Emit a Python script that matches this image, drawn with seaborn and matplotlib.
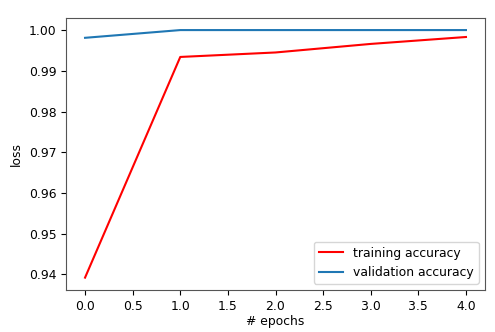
import matplotlib
matplotlib.use("Agg")
import matplotlib.pyplot as plt
import seaborn as sns
import pandas as pd

epochs = [0, 1, 2, 3, 4]
train_acc = [0.9392, 0.9934, 0.9945, 0.9966, 0.9983]
val_acc = [0.9981, 1.0, 1.0, 1.0, 1.0]

plt.rcParams['font.family'] = ['DejaVu Sans']
fs = 8.9

fig = plt.figure(figsize=(4.95, 3.32), dpi=100)
ax = fig.add_axes([66/495, 1 - 290/332, (485-66)/495, (290-17.7)/332])

sns.lineplot(x=epochs, y=train_acc, ax=ax, color='red', label='training accuracy')
sns.lineplot(x=epochs, y=val_acc, ax=ax, color='#1f77b4', label='validation accuracy')

ax.set_xlabel('# epochs', fontsize=fs, labelpad=2)
ax.set_ylabel('loss', fontsize=fs)
ax.set_xticks([0, 0.5, 1, 1.5, 2, 2.5, 3, 3.5, 4])
ax.set_xticklabels(['0.0', '0.5', '1.0', '1.5', '2.0', '2.5', '3.0', '3.5', '4.0'])
ax.set_yticks([0.94, 0.95, 0.96, 0.97, 0.98, 0.99, 1.00])
ax.set_yticklabels(['0.94', '0.95', '0.96', '0.97', '0.98', '0.99', '1.00'])
ax.tick_params(labelsize=fs)
for s in ax.spines.values():
    s.set_color('#555555')
ax.legend(loc='lower right', fontsize=fs)

fig.savefig('out.png', dpi=100)
